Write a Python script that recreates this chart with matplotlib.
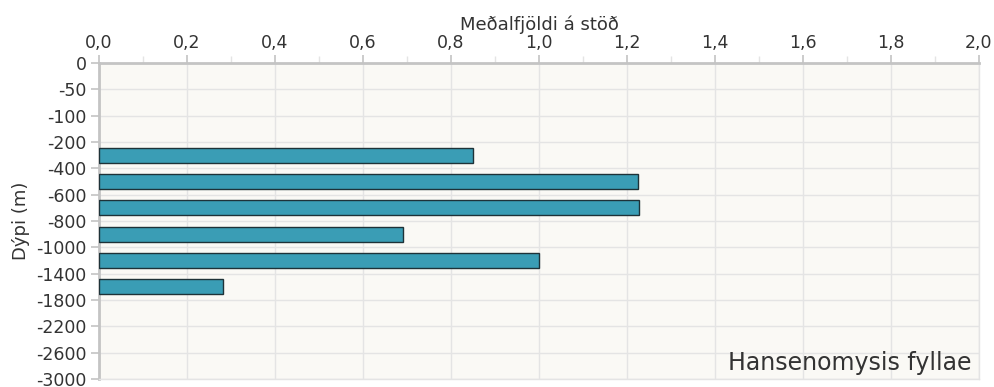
import matplotlib
matplotlib.use("Agg")
import matplotlib.pyplot as plt
from matplotlib.ticker import MultipleLocator, FuncFormatter

# Depth bands (boundaries) and mean counts per station in each band
depth_labels = ["0", "-50", "-100", "-200", "-400", "-600", "-800", "-1000",
                "-1400", "-1800", "-2200", "-2600", "-3000"]
band_index = [3, 4, 5, 6, 7, 8]          # band starts at this boundary
mean_counts = [0.849, 1.225, 1.227, 0.692, 0.999, 0.282]
species = "Hansenomysis fyllae"

plt.rcParams["font.family"] = ["DejaVu Sans"]
text_color = "#333333"
axis_gray = "#c4c4c4"
grid_gray = "#e4e4e4"

fig = plt.figure(figsize=(9.95, 3.87), dpi=100)
ax = fig.add_axes([99 / 995, 1 - 379 / 387, 880 / 995, 316 / 387])
ax.set_facecolor("#faf9f5")

centers = [i + 0.5 for i in band_index]
ax.barh(centers, mean_counts, height=0.57, color="#3a9db5",
        edgecolor="#1e3238", linewidth=1.0, zorder=3)

ax.set_xlim(0, 2.0)
ax.set_ylim(len(depth_labels) - 1, 0)

ax.xaxis.set_major_locator(MultipleLocator(0.2))
ax.xaxis.set_minor_locator(MultipleLocator(0.1))
ax.xaxis.set_major_formatter(FuncFormatter(lambda v, p: f"{v:.1f}".replace(".", ",")))
ax.xaxis.tick_top()
ax.xaxis.set_label_position("top")

ax.set_yticks(range(len(depth_labels)))
ax.set_yticklabels(depth_labels)

ax.tick_params(axis="x", which="major", length=6, width=1.2, color=axis_gray,
               labelsize=12.5, labelcolor=text_color, pad=2)
ax.tick_params(axis="x", which="minor", length=5, width=1.0, color=grid_gray)
ax.tick_params(axis="y", length=6, width=1.2, color=axis_gray,
               labelsize=12.5, labelcolor=text_color, pad=3)

ax.grid(True, which="major", color=grid_gray, linewidth=1.0, zorder=0)
ax.set_axisbelow(True)

for side in ("left", "top"):
    ax.spines[side].set_color(axis_gray)
    ax.spines[side].set_linewidth(2.0)
for side in ("right", "bottom"):
    ax.spines[side].set_color(grid_gray)
    ax.spines[side].set_linewidth(1.0)

ax.set_xlabel("Meðalfjöldi á stöð", fontsize=13, color=text_color, labelpad=3)
ax.set_ylabel("Dýpi (m)", fontsize=13, color=text_color, labelpad=4)

ax.text(0.9917, 0.0285, species, transform=ax.transAxes, ha="right", va="baseline",
        fontsize=17, color=text_color, zorder=5)

fig.savefig("out.png", dpi=100)
